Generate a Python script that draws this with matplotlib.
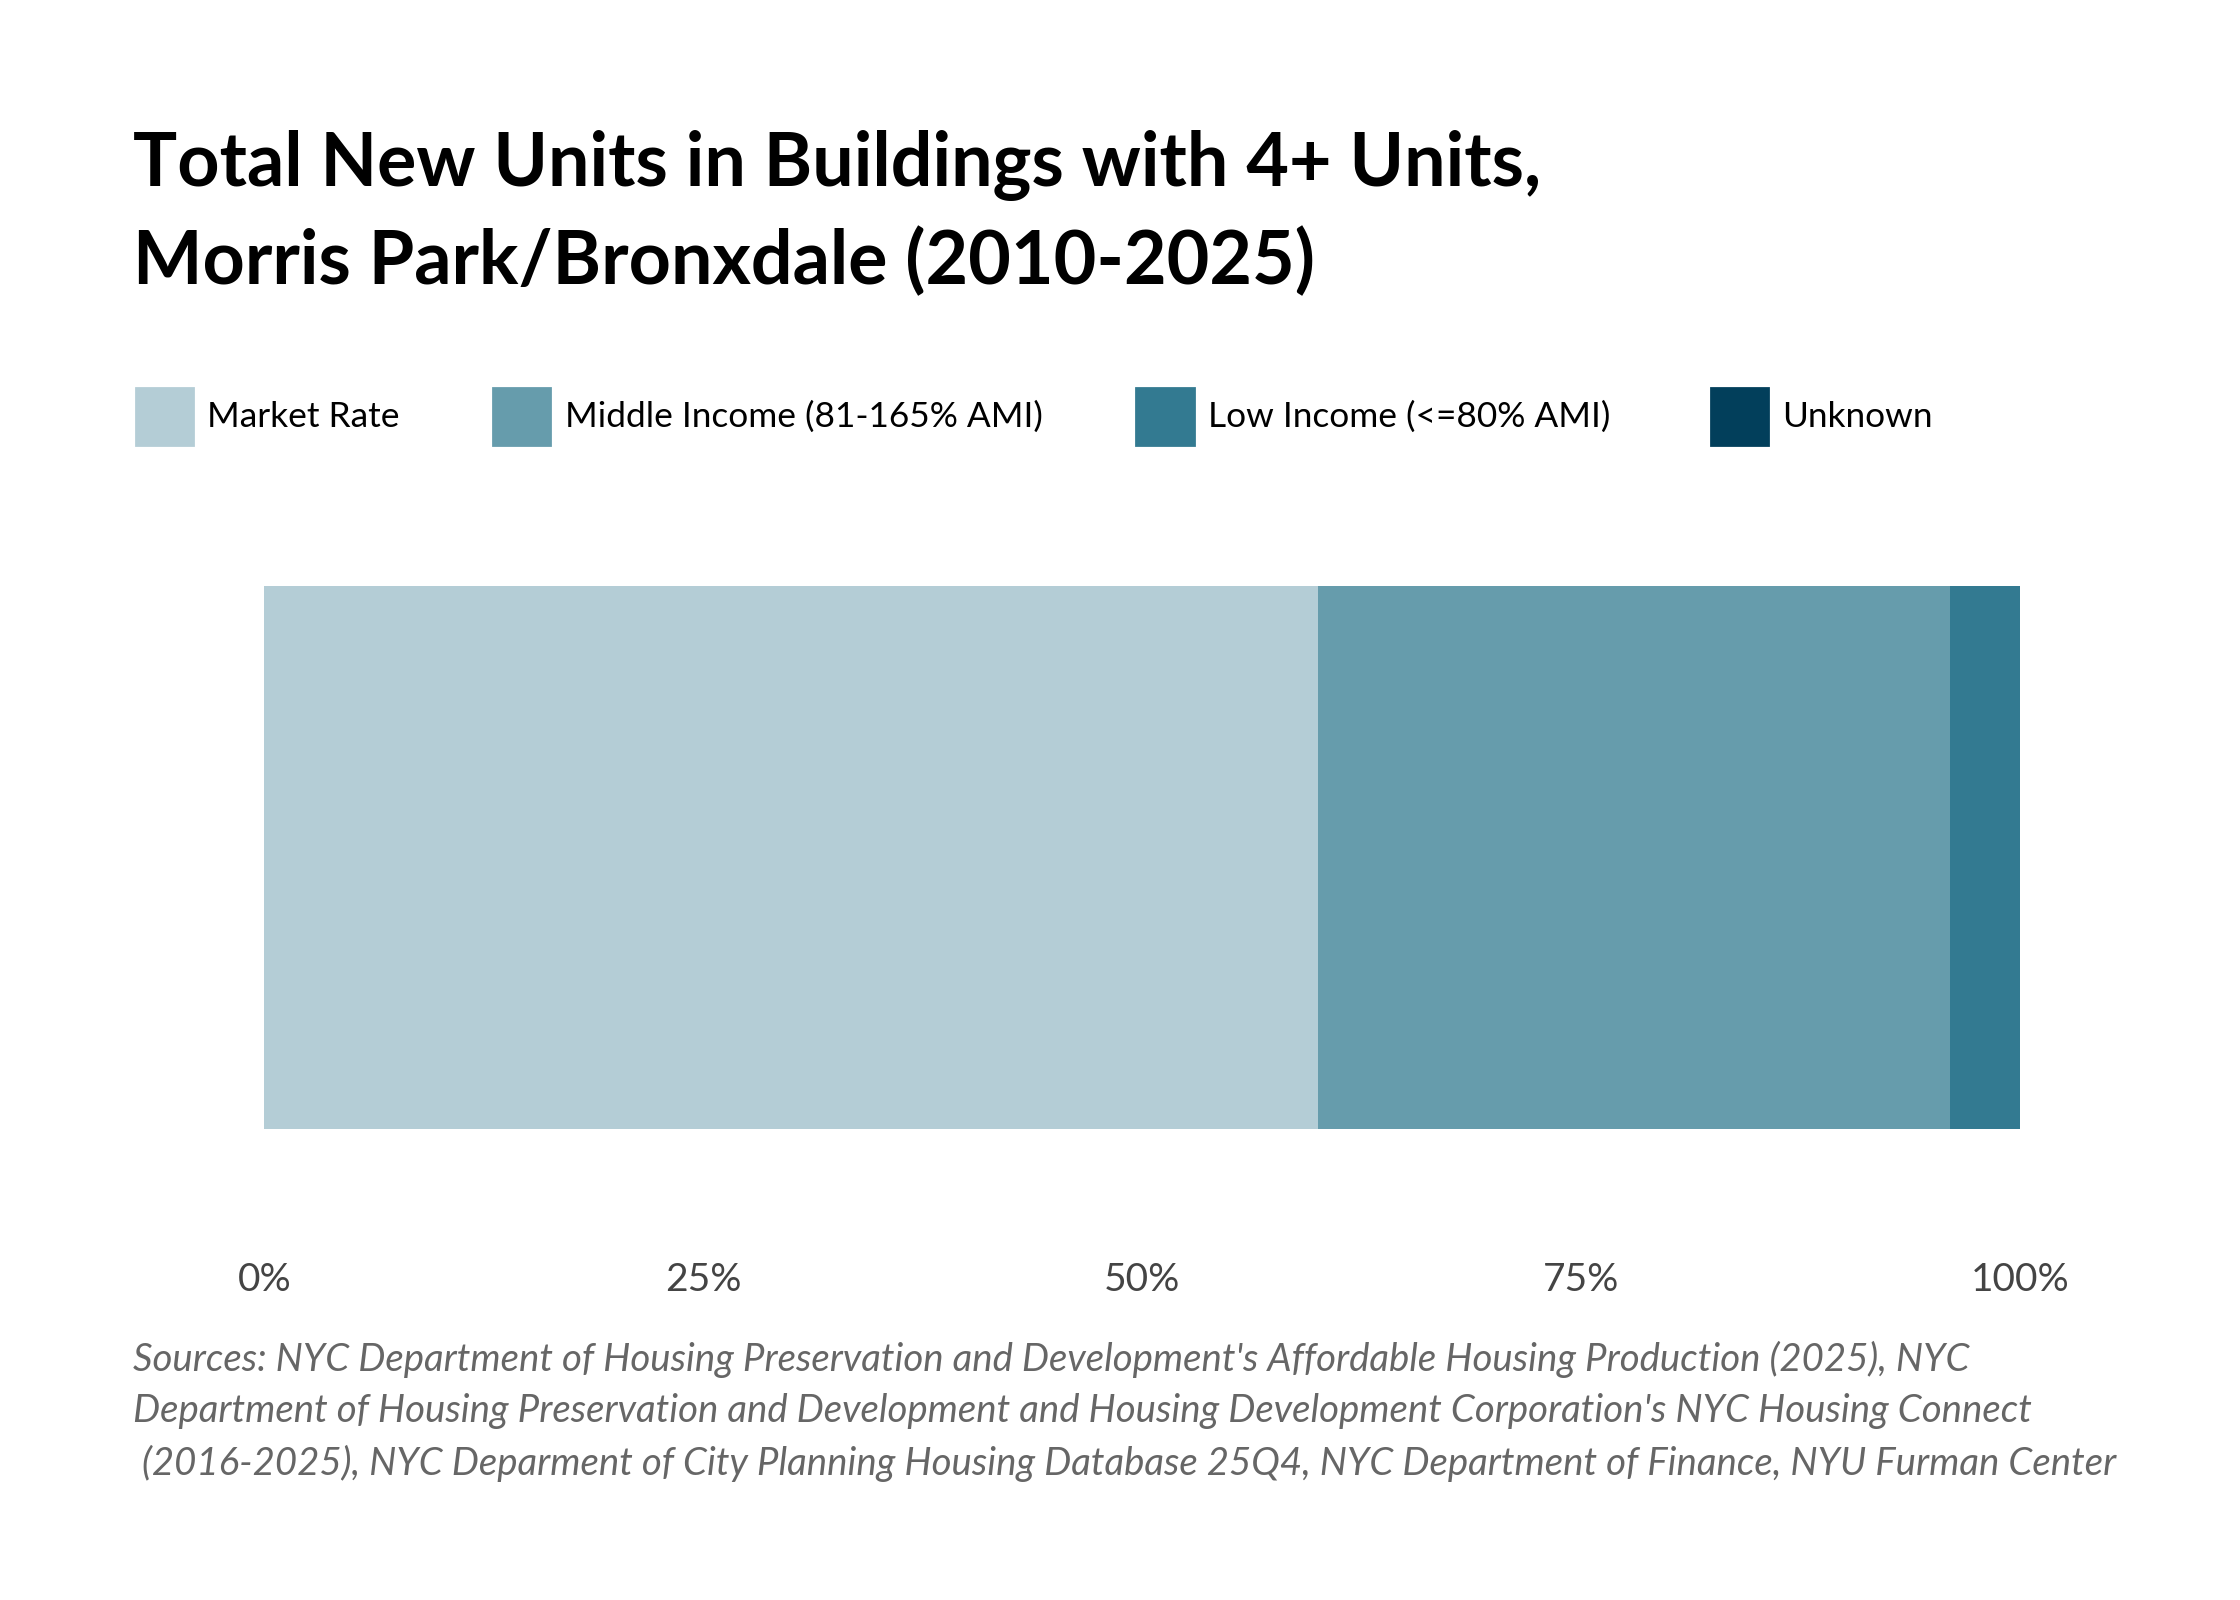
import matplotlib.pyplot as plt
from matplotlib.patches import Rectangle

categories = ["Market Rate", "Middle Income (81-165% AMI)", "Low Income (<=80% AMI)", "Unknown"]
shares = [60.0, 36.0, 4.0, 0.0]
colors = ["#b4cdd6", "#669cac", "#337a91", "#023f5b"]
ticks = [0, 25, 50, 75, 100]
tick_labels = ["0%", "25%", "50%", "75%", "100%"]

W, H = 1567, 1110
fig = plt.figure(figsize=(11.2, 8), dpi=200)
plt.rcParams['font.family'] = ['Lato', 'DejaVu Sans']

ax = fig.add_axes([185 / W, 1 - 860 / H, (1413 - 185) / W, 530 / H])
left = 0
for c, v, col in zip(categories, shares, colors):
    ax.barh(0, v, left=left, height=0.71, color=col)
    left += v
ax.set_xlim(0, 100)
ax.set_ylim(-0.5, 0.5)
ax.set_xticks(ticks)
ax.set_xticklabels(tick_labels, fontsize=14, color="#444444")
ax.set_yticks([])
ax.tick_params(axis="x", length=0, pad=8)
for s in ax.spines.values():
    s.set_visible(False)

fig.text(93 / W, 1 - 115 / H, "Total New Units in Buildings with 4+ Units,", fontsize=26.5,
         fontweight="bold", va="center")
fig.text(93 / W, 1 - 182 / H, "Morris Park/Bronxdale (2010-2025)", fontsize=26.5,
         fontweight="bold", va="center")

legend_x = [95, 345, 795, 1197]
for x, c, col in zip(legend_x, categories, colors):
    fig.patches.append(Rectangle((x / W, 1 - 309 / H), 40 / W, 40 / H,
                                 transform=fig.transFigure, color=col))
    fig.text((x + 50) / W, 1 - 289 / H, c, fontsize=12.7, va="center")

src = ["Sources: NYC Department of Housing Preservation and Development's Affordable Housing Production (2025), NYC",
       "Department of Housing Preservation and Development and Housing Development Corporation's NYC Housing Connect",
       " (2016-2025), NYC Deparment of City Planning Housing Database 25Q4, NYC Department of Finance, NYU Furman Center"]
for i, line in enumerate(src):
    fig.text(93 / W, 1 - (943 + 36 * i) / H, line, fontsize=13.8, style="italic",
             color="#666666", va="center")

fig.savefig("out.png")
